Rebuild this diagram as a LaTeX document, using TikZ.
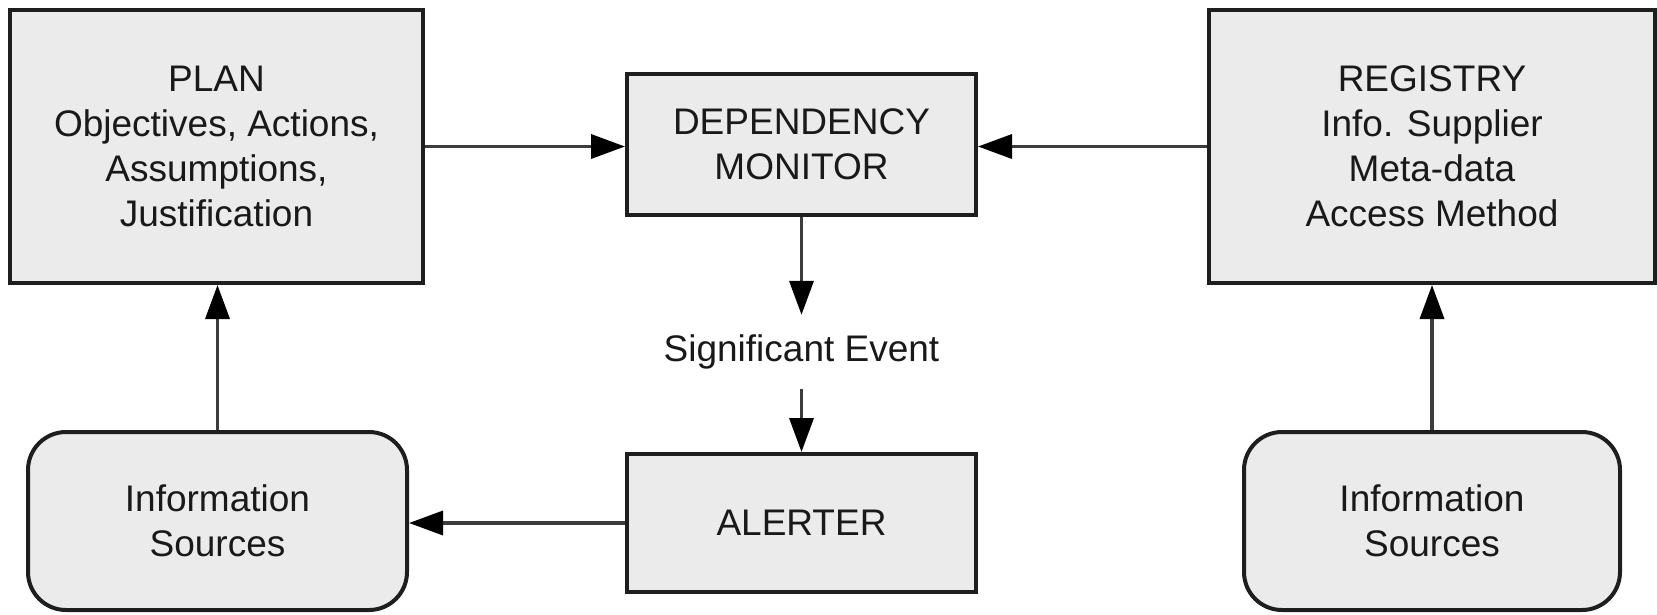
\documentclass[tikz,border=0pt]{standalone}
\usepackage{fontspec}
\setmainfont{Liberation Sans}
\usetikzlibrary{arrows.meta}
\definecolor{boxfill}{HTML}{EBEBEB}
\definecolor{edge}{HTML}{1E1E1E}
\definecolor{wire}{HTML}{3C3C3C}
\begin{document}
\begin{tikzpicture}[x=1pt,y=-1pt,
  every node/.style={font=\fontsize{37}{45}\selectfont, align=center, inner sep=0pt, text=black!90},
  block/.style={draw=edge, fill=boxfill, line width=4pt},
  source/.style={block, rounded corners=38pt},
  flow/.style={draw=wire, line width=3.5pt, -{Triangle[length=34pt,width=24pt,color=black]}}
]
\useasboundingbox (0,0) rectangle (1657,614);

% boxes of the upper row
\node[block, minimum width=413pt, minimum height=273pt] (plan) at (216.5,146.5)
  {PLAN\\Objectives, Actions,\\Assumptions,\\Justification};
\node[block, minimum width=349pt, minimum height=141pt] (dm) at (801.5,144.5)
  {DEPENDENCY\\MONITOR};
\node[block, minimum width=446pt, minimum height=273pt] (reg) at (1432,146.5)
  {REGISTRY\\Info. Supplier\\Meta-data\\Access Method};

% event label between monitor and alerter
\node[minimum height=74pt] (sig) at (801.5,352) {Significant Event};

% boxes of the lower row
\node[source, minimum width=379pt, minimum height=178pt] (srcl) at (217.5,521)
  {Information\\Sources};
\node[block, minimum width=349pt, minimum height=138pt] (alert) at (801.5,523)
  {ALERTER};
\node[source, minimum width=376pt, minimum height=178pt] (srcr) at (1432,521)
  {Information\\Sources};

% connectors
\draw[flow] (plan.east) -- (plan.east -| dm.west);
\draw[flow] (reg.west) -- (reg.west -| dm.east);
\draw[flow] (dm.south) -- (sig.north);
\draw[flow] (sig.south) -- (alert.north);
\draw[flow] (alert.west) -- (alert.west -| srcl.east);
\draw[flow] (srcl.north) -- (srcl.north |- plan.south);
\draw[flow] (srcr.north) -- (reg.south);
\end{tikzpicture}
\end{document}
